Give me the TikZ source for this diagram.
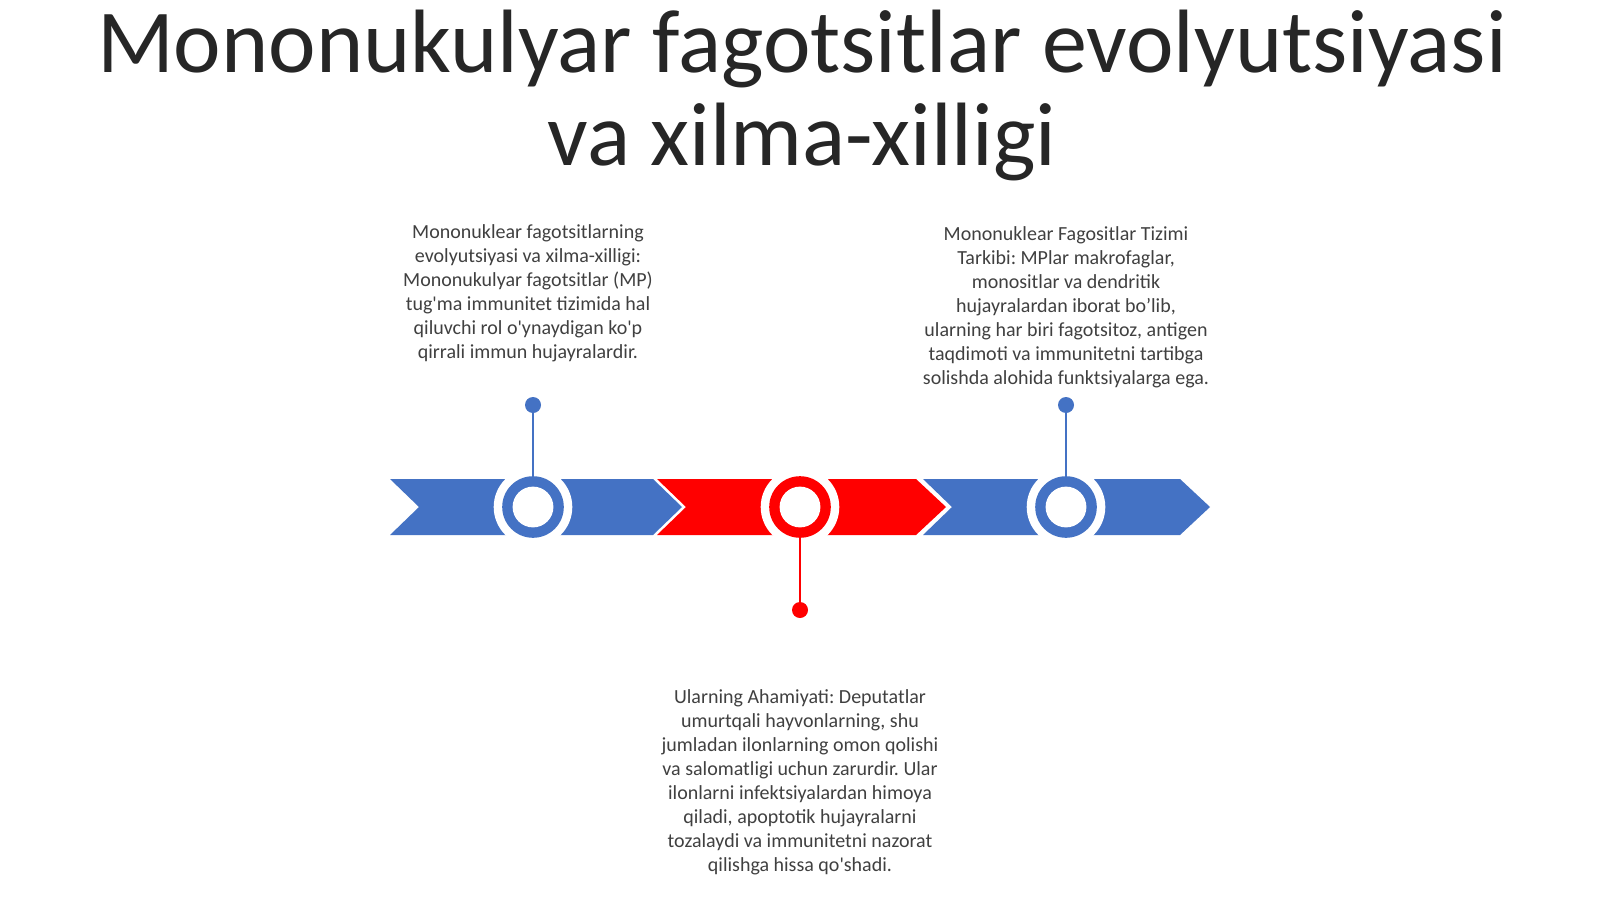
\documentclass[tikz,border=0pt]{standalone}
\usepackage{fontspec}
\setmainfont{Carlito}[Ligatures=TeXOff]
\frenchspacing
\definecolor{segblue}{HTML}{4472C4}
\definecolor{segred}{HTML}{FF0000}
\definecolor{titlecol}{HTML}{262626}
\definecolor{bodycol}{HTML}{404040}
\begin{document}
\begin{tikzpicture}[x=1pt,y=-1pt,
  titletext/.style={inner sep=0pt,align=center,text=titlecol,font=\fontsize{90}{93}\selectfont},
  bodytext/.style={inner sep=0pt,align=center,text=bodycol,font=\fontsize{20}{24.1}\selectfont},
  ringgap/.style={fill=white,draw=none},
  pin/.style={line width=2pt},
  pindot/.style={circle,inner sep=0pt,minimum size=16pt}]
\useasboundingbox[fill=white] (0,0) rectangle (1600,899);
% title
\node[titletext,anchor=north] (title) at (802,9.5) {Mononukulyar fagotsitlar evolyutsiyasi\\va xilma-xilligi};
% chevron segments
\fill[segblue] (390,479) -- (653,479) -- (682,507) -- (653,535) -- (390,535) -- (419,507) -- cycle;
\fill[segred]  (657,479) -- (916,479) -- (946,507) -- (916,535) -- (657,535) -- (686,507) -- cycle;
\fill[segblue] (923,479) -- (1180,479) -- (1210,507) -- (1180,535) -- (923,535) -- (952,507) -- cycle;
% rings
\foreach \cx/\col/\nm in {533/segblue/ra,800/segred/rb,1066/segblue/rc}{
  \fill[ringgap] (\cx,507) circle[radius=39.3];
  \fill[\col] (\cx,507) circle[radius=30.8];
  \node[circle,fill=white,inner sep=0pt,minimum size=40.8pt] (\nm) at (\cx,507) {};
}
% pins
\node[pindot,fill=segblue] (da) at (533,405) {};
\node[pindot,fill=segred] (db) at (800,610) {};
\node[pindot,fill=segblue] (dc) at (1066,405) {};
\draw[pin,segblue] (da.center) -- ([yshift=5pt]ra.north);
\draw[pin,segred] (db.center) -- ([yshift=-5pt]rb.south);
\draw[pin,segblue] (dc.center) -- ([yshift=5pt]rc.north);
% texts
\node[bodytext,anchor=north] (ta) at (528,224) {Mononuklear fagotsitlarning\\evolyutsiyasi va xilma-xilligi:\\Mononukulyar fagotsitlar (MP)\\tug'ma immunitet tizimida hal\\qiluvchi rol o'ynaydigan ko'p\\qirrali immun hujayralardir.};
\node[bodytext,anchor=north] (tc) at (1066,226) {Mononuklear Fagositlar Tizimi\\Tarkibi: MPlar makrofaglar,\\monositlar va dendritik\\hujayralardan iborat bo’lib,\\ularning har biri fagotsitoz, antigen\\taqdimoti va immunitetni tartibga\\solishda alohida funktsiyalarga ega.};
\node[bodytext,anchor=north] (tb) at (800,689) {Ularning Ahamiyati: Deputatlar\\umurtqali hayvonlarning, shu\\jumladan ilonlarning omon qolishi\\va salomatligi uchun zarurdir. Ular\\ilonlarni infektsiyalardan himoya\\qiladi, apoptotik hujayralarni\\tozalaydi va immunitetni nazorat\\qilishga hissa qo'shadi.};
\end{tikzpicture}
\end{document}
